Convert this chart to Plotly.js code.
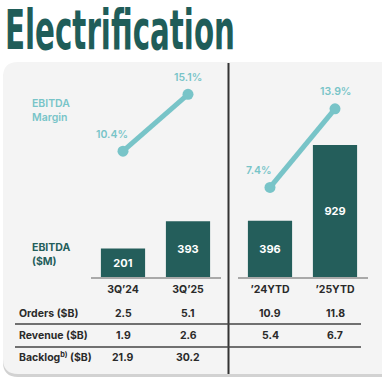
<!DOCTYPE html>
<html>
<head>
<meta charset="utf-8">
<script src="https://cdn.plot.ly/plotly-3.0.1.min.js"></script>
<style>
html,body{margin:0;padding:0;background:#fff;}
#chart{width:382px;height:381px;}
</style>
</head>
<body>
<div id="chart"></div>
<script>
// ---- data ----
const quarters = ["3Q’24", "3Q’25"];
const ytdPeriods = ["’24YTD", "’25YTD"];
const ebitdaQ = [201, 393];
const ebitdaYTD = [396, 929];
const marginQ = [10.4, 15.1];
const marginYTD = [7.4, 13.9];
const rowLabels = ["Orders ($B)", "Revenue ($B)", "Backlog<sup>b)</sup> ($B)"];
const ordersQ = [2.5, 5.1];
const ordersYTD = [10.9, 11.8];
const revenueQ = [1.9, 2.6];
const revenueYTD = [5.4, 6.7];
const backlogQ = [21.9, 30.2];
const backlogYTD = [null, null];

// ---- layout helpers (pixel -> paper) ----
const W = 382, H = 381;
const px = x => x / W;
const py = y => 1 - y / H;

const DARK = "#245e5b";
const LIGHT = "#78c4c8";
const TXT = "#2a2a2a";
const FONT = "Inter, 'Noto Sans', sans-serif";

const barCommon = {
  type: "bar", marker: {color: DARK}, textposition: "inside",
  insidetextanchor: "middle", textangle: 0, constraintext: "none",
  textfont: {family: FONT, size: 11, color: "#ffffff", weight: 700},
  hoverinfo: "skip", showlegend: false
};
const lineCommon = {
  type: "scatter", mode: "lines+markers",
  line: {color: LIGHT, width: 5}, marker: {color: LIGHT, size: 11},
  cliponaxis: false, hoverinfo: "skip", showlegend: false
};

const fmtPct = v => v.toFixed(1) + "%";

const traces = [
  Object.assign({}, barCommon, {x: quarters, y: ebitdaQ, text: ebitdaQ.map(String), xaxis: "x", yaxis: "y"}),
  Object.assign({}, barCommon, {x: ytdPeriods, y: ebitdaYTD, text: ebitdaYTD.map(String), xaxis: "x2", yaxis: "y"}),
  Object.assign({}, lineCommon, {x: quarters, y: marginQ, xaxis: "x", yaxis: "y2"}),
  Object.assign({}, lineCommon, {x: ytdPeriods, y: marginYTD, xaxis: "x2", yaxis: "y2"})
];

const yBase = 277, yTop = 70;
const plotH = yBase - yTop;

const xCommon = {
  type: "category", showgrid: false, zeroline: false, showline: true,
  linecolor: "#a9a9a9", linewidth: 1.5, ticks: "outside", ticklen: 2,
  tickcolor: "rgba(0,0,0,0)", fixedrange: true,
  tickfont: {family: FONT, size: 10.5, color: TXT, weight: 700}
};

const annotations = [];
// margin labels, attached to the data points
const labelShiftX = [-11, 0];
[[quarters, marginQ, "x"], [ytdPeriods, marginYTD, "x2"]].forEach(([cats, vals, xr]) => {
  cats.forEach((c, j) => {
    annotations.push({xref: xr, yref: "y2", x: c, y: vals[j], xshift: labelShiftX[j], yshift: 17,
      xanchor: "center", yanchor: "middle", text: fmtPct(vals[j]), showarrow: false,
      font: {family: FONT, size: 10.5, color: LIGHT, weight: 600}});
  });
});

// table annotations
const rowY = [313, 335, 357];
const rowDataQ = [ordersQ, revenueQ, backlogQ];
const rowDataYTD = [ordersYTD, revenueYTD, backlogYTD];
rowLabels.forEach((lab, i) => {
  annotations.push({xref: "paper", yref: "paper", x: px(17), y: py(rowY[i]), xanchor: "left", yanchor: "middle",
    text: lab, showarrow: false, font: {family: FONT, size: 10.5, color: TXT, weight: 700}});
  quarters.forEach((q, j) => {
    const v = rowDataQ[i][j];
    if (v !== null) annotations.push({xref: "x", yref: "paper", x: q, y: py(rowY[i]), xanchor: "center", yanchor: "middle",
      text: v.toFixed(1), showarrow: false, font: {family: FONT, size: 10.5, color: TXT, weight: 700}});
  });
  ytdPeriods.forEach((q, j) => {
    const v = rowDataYTD[i][j];
    if (v !== null) annotations.push({xref: "x2", yref: "paper", x: q, y: py(rowY[i]), xanchor: "center", yanchor: "middle",
      text: v.toFixed(1), showarrow: false, font: {family: FONT, size: 10.5, color: TXT, weight: 700}});
  });
});
annotations.push({xref: "paper", yref: "paper", x: px(30), y: py(111), xanchor: "left", yanchor: "middle", align: "left",
  text: "EBITDA<br>Margin", showarrow: false, font: {family: FONT, size: 10.5, color: LIGHT, weight: 600}});
annotations.push({xref: "paper", yref: "paper", x: px(30), y: py(254), xanchor: "left", yanchor: "middle", align: "left",
  text: "EBITDA<br>($M)", showarrow: false, font: {family: FONT, size: 10.5, color: DARK, weight: 700}});

// card path
const card = (dx, dy) => {
  const L = 3 + dx, T = 62 + dy, B = 374 + dy, R = 390, r = 15;
  return `M ${px(L)},${py(T + r)} Q ${px(L)},${py(T)} ${px(L + r)},${py(T)} L ${px(R)},${py(T)} L ${px(R)},${py(B)} L ${px(L + r)},${py(B)} Q ${px(L)},${py(B)} ${px(L)},${py(B - r)} Z`;
};

const shapes = [
  {type: "path", xref: "paper", yref: "paper", path: card(0, 3), fillcolor: "#d2d2d2", line: {width: 0}, layer: "below"},
  {type: "path", xref: "paper", yref: "paper", path: card(0, 0), fillcolor: "#f4f4f4", line: {width: 0}, layer: "below"},
  {type: "line", xref: "paper", yref: "paper", x0: px(228.5), x1: px(228.5), y0: py(63), y1: py(374), line: {color: "#333333", width: 2}},
  {type: "line", xref: "paper", yref: "paper", x0: px(15), x1: px(361), y0: py(324), y1: py(324), line: {color: "#444444", width: 1.5}},
  {type: "line", xref: "paper", yref: "paper", x0: px(15), x1: px(361), y0: py(347), y1: py(347), line: {color: "#444444", width: 1.5}}
];

const layout = {
  width: W, height: H,
  margin: {l: 0, r: 0, t: 0, b: 0, pad: 0},
  paper_bgcolor: "#ffffff", plot_bgcolor: "rgba(0,0,0,0)",
  bargap: 0.32,
  title: {text: "Electrification", x: px(5), xanchor: "left", y: py(29), yanchor: "middle", xref: "paper", yref: "paper",
    font: {family: "'Liberation Sans Narrow', 'DejaVu Sans Condensed', sans-serif", size: 42, weight: 700, color: "#1f5d59"}},
  xaxis: Object.assign({}, xCommon, {domain: [px(90.5), px(220.5)], anchor: "y"}),
  xaxis2: Object.assign({}, xCommon, {domain: [px(237.5), px(367.5)], anchor: "y"}),
  yaxis: {domain: [py(yBase), py(yTop)], range: [0, plotH / 0.142], visible: false, fixedrange: true},
  yaxis2: {domain: [py(yBase), py(yTop)], overlaying: "y", range: [0, plotH / 12.1], visible: false, fixedrange: true},
  annotations: annotations,
  shapes: shapes
};

function condenseTitle() {
  const t = document.querySelector("#chart .gtitle");
  if (!t) return;
  const bb = t.getBBox();
  if (!bb.width) return;
  const x0 = 5, targetW = 230;
  const s = targetW / bb.width;
  const cy = bb.y + bb.height / 2;
  const sy = 1.32;
  t.setAttribute("transform", `translate(${x0},${cy + 1}) scale(${s},${sy}) translate(${-bb.x},${-cy})`);
}

Plotly.newPlot("chart", traces, layout, {displayModeBar: false, staticPlot: true}).then(condenseTitle);
</script>
</body>
</html>
